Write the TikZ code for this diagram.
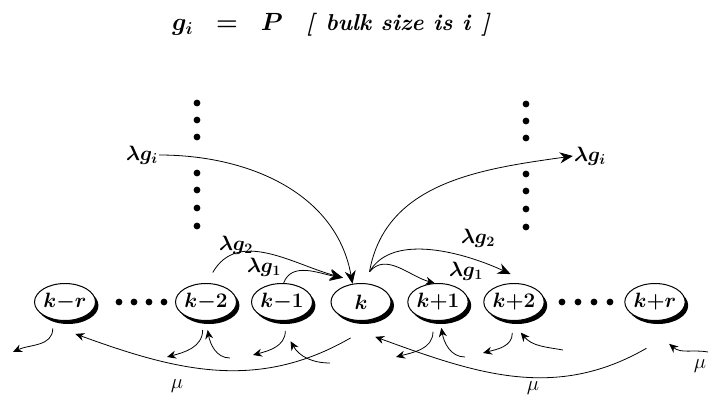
\documentclass[tikz,border=0pt]{standalone}
\usetikzlibrary{shapes.geometric,arrows.meta,shadows}
\begin{document}
\begin{tikzpicture}[x=1pt,y=1pt,>={Stealth[length=9pt,width=8pt]},line width=0.8pt,
 st/.style={ellipse,draw,line width=1pt,fill=white,minimum width=60pt,minimum height=37pt,inner sep=0,
  font=\fontsize{20}{23}\selectfont\boldmath,
  drop shadow={shadow xshift=3pt,shadow yshift=-3.5pt,fill=black,opacity=1}},
 lab/.style={font=\fontsize{21}{24}\selectfont\boldmath,inner sep=1pt},
 mu/.style={font=\fontsize{20}{23}\selectfont},
 big/.style={-{Stealth[length=13pt,width=11pt]}}]
\useasboundingbox (0,0) rectangle (713,-396);
\node[font=\fontsize{23}{26}\selectfont\bfseries\itshape\boldmath](title) at(331,-25){$g_i$\quad$=$\quad$P$\quad[\enspace bulk size is i\enspace]};
\foreach \n/\x/\t in {kmr/65/k{-}r,km2/206/k{-}2,km1/282/k{-}1,k0/361/k,kp1/438/k{+}1,kp2/514/k{+}2,kpr/655/k{+}r}
  \node[st](\n) at(\x,-302){$\t$};
\foreach \y in {103,120,137,173,190,208,226}{\fill(197,-\y)circle(3.4pt);\fill(526,-\y-1)circle(3.4pt);}
\foreach \x in {119,134,149,164,562,578,594,610}\fill(\x,-302)circle(3.4pt);
% arrivals of bulks
\node[lab](li) at(142,-155){$\lambda g_i$};
\node[lab](ri) at(590,-156){$\lambda g_i$};
\node[lab](l2) at(236,-245){$\lambda g_2$};
\node[lab](l1) at(264,-267){$\lambda g_1$};
\node[lab](r2) at(478,-238){$\lambda g_2$};
\node[lab](r1) at(466,-271){$\lambda g_1$};
\coordinate(ks) at([yshift=12pt]k0.65);
\draw[big](li.east) to[out=0,in=100](k0.115);
\draw[big](ks) to[out=80,in=188](ri.west);
\draw[big]([yshift=11pt]km2.70) to[out=60,in=165]([yshift=9pt]k0.140);
\draw[big](km1.85) to[out=70,in=170]([yshift=9pt]k0.140);
\draw[->](ks) to[out=50,in=165](kp1.100);
\draw[big](ks) to[out=60,in=155,looseness=0.85]([yshift=9pt]kp2.100);
% departures
\coordinate(o1) at(13,-352);\coordinate(o2) at(167,-357);\coordinate(o3) at(253,-355);
\coordinate(o4) at(396,-357);\coordinate(o5) at(483,-353);
\coordinate(i2) at(230,-358);\coordinate(i3) at(330,-363);\coordinate(i4) at(465,-357);
\coordinate(i5) at(563,-350);\coordinate(i6) at(708,-352);
\draw[->]([yshift=-9pt]kmr.235) to[out=-90,in=25](o1);
\draw[->]([yshift=-9pt]km2.260) to[out=-90,in=15](o2);
\draw[->]([yshift=-10pt]km1.280) to[out=-90,in=15](o3);
\draw[->]([yshift=-11pt]kp1.255) to[out=-90,in=15](o4);
\draw[->]([yshift=-12pt]kp2.265) to[out=-90,in=15](o5);
\draw[->](i2) to[out=180,in=-80]([yshift=-9pt]km2.275);
\draw[->](i3) to[out=180,in=-60]([yshift=-21pt]km1.295);
\draw[->](i4) to[out=180,in=-80]([yshift=-7pt]kp1.280);
\draw[->](i5) to[out=170,in=-50]([yshift=-12pt]kp2.290);
\draw[->](i6) to[out=170,in=-40]([yshift=-25pt]kpr.310);
\draw[->]([yshift=-18pt]k0.240) to[out=210,in=-20]([yshift=-14pt]kmr.300);
\draw[->]([yshift=-28pt]kpr.245) to[out=210,in=-20]([yshift=-18pt]k0.310);
\node[mu](mu1) at(177,-386){$\mu$};
\node[mu](mu2) at(533,-388){$\mu$};
\node[mu](mu3) at(700,-366){$\mu$};
\end{tikzpicture}
\end{document}
